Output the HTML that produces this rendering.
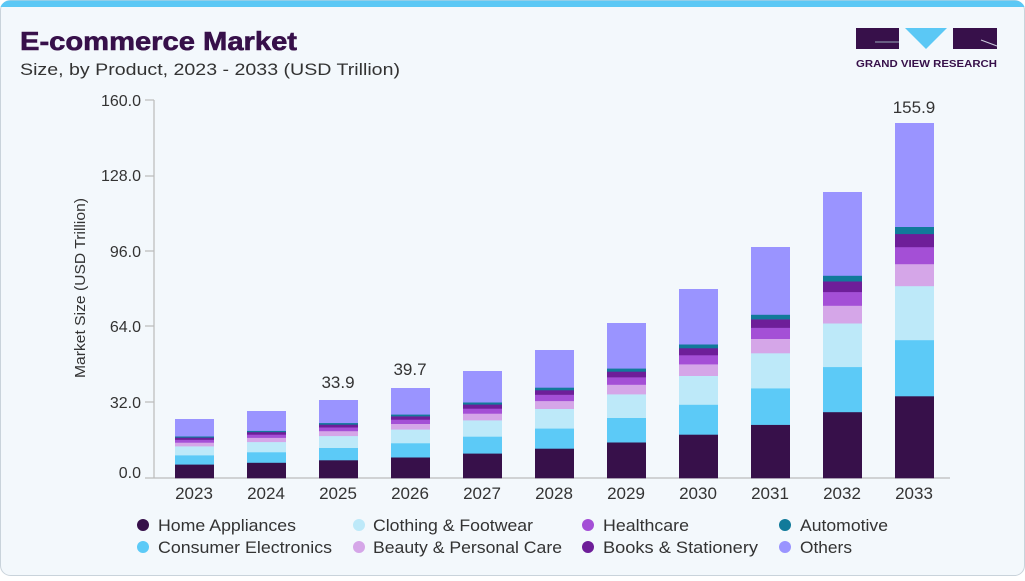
<!DOCTYPE html>
<html><head><meta charset="utf-8"><style>
body{margin:0;width:1025px;height:576px;overflow:hidden;background:#fff;font-family:"Liberation Sans",sans-serif}
</style></head><body>
<svg width="1025" height="576" xmlns="http://www.w3.org/2000/svg" font-family="Liberation Sans, sans-serif">
<rect x="0.5" y="0.5" width="1024" height="575" rx="10" fill="#f3f8fc" stroke="#c9d3db"/>
<path d="M10 0.5 H1015 A10 10 0 0 1 1024.5 7 H0.5 A10 10 0 0 1 10 0.5Z" fill="#5bc8f5"/>
<text x="20" y="50" font-size="26" font-weight="bold" fill="#37104a" textLength="277" lengthAdjust="spacingAndGlyphs" stroke="#37104a" stroke-width="0.6">E-commerce Market</text>
<text x="20" y="75" font-size="17" fill="#333" textLength="380" lengthAdjust="spacingAndGlyphs">Size, by Product, 2023 - 2033 (USD Trillion)</text>
<rect x="856" y="28" width="43" height="21" fill="#37104a"/>
<line x1="875" y1="42" x2="899" y2="42" stroke="#9ab" stroke-width="1"/>
<polygon points="905,28 947,28 926,49" fill="#5bc8f5"/>
<rect x="953" y="28" width="44" height="21" fill="#37104a"/>
<line x1="981" y1="40" x2="997" y2="46" stroke="#ccd" stroke-width="1"/>
<text x="856" y="67" font-size="10" font-weight="bold" fill="#37104a" textLength="141" lengthAdjust="spacingAndGlyphs">GRAND VIEW RESEARCH</text>
<text transform="translate(85,288) rotate(-90)" text-anchor="middle" font-size="15" fill="#333" textLength="180" lengthAdjust="spacingAndGlyphs">Market Size (USD Trillion)</text>
<g font-size="16" fill="#333" text-anchor="end">
<text x="141" y="106">160.0</text><text x="141" y="181">128.0</text><text x="141" y="257">96.0</text>
<text x="141" y="332">64.0</text><text x="141" y="408">32.0</text><text x="141" y="478">0.0</text>
</g>
<g stroke="#bbb" stroke-width="1.2">
<line x1="154" y1="100" x2="154" y2="478"/><line x1="154" y1="478" x2="950" y2="478"/>
<line x1="145" y1="100" x2="154" y2="100"/><line x1="145" y1="176" x2="154" y2="176"/>
<line x1="145" y1="251" x2="154" y2="251"/><line x1="145" y1="326" x2="154" y2="326"/>
<line x1="145" y1="402" x2="154" y2="402"/><line x1="145" y1="478" x2="154" y2="478"/>
</g>
<g id="bars"></g>
<g font-size="17" fill="#333" text-anchor="middle">
<text x="338" y="388">33.9</text><text x="410" y="375">39.7</text><text x="914" y="113">155.9</text>
<text x="194" y="499">2023</text><text x="266" y="499">2024</text><text x="338" y="499">2025</text><text x="410" y="499">2026</text><text x="482" y="499">2027</text><text x="554" y="499">2028</text><text x="626" y="499">2029</text><text x="698" y="499">2030</text><text x="770" y="499">2031</text><text x="842" y="499">2032</text><text x="914" y="499">2033</text>
</g>
<g font-size="17" fill="#333">
<circle cx="143" cy="525" r="6" fill="#37104a"/><text x="158" y="531" textLength="138" lengthAdjust="spacingAndGlyphs">Home Appliances</text>
<circle cx="143" cy="547" r="6" fill="#5ccaf7"/><text x="158" y="553" textLength="174" lengthAdjust="spacingAndGlyphs">Consumer Electronics</text>
<circle cx="359" cy="525" r="6" fill="#bde9f9"/><text x="373" y="531" textLength="160" lengthAdjust="spacingAndGlyphs">Clothing &amp; Footwear</text>
<circle cx="359" cy="547" r="6" fill="#d5a6e8"/><text x="373" y="553" textLength="189" lengthAdjust="spacingAndGlyphs">Beauty &amp; Personal Care</text>
<circle cx="588" cy="525" r="6" fill="#a44fd6"/><text x="603" y="531" textLength="86" lengthAdjust="spacingAndGlyphs">Healthcare</text>
<circle cx="588" cy="547" r="6" fill="#6e1e99"/><text x="603" y="553" textLength="155" lengthAdjust="spacingAndGlyphs">Books &amp; Stationery</text>
<circle cx="785" cy="525" r="6" fill="#117a9a"/><text x="800" y="531" textLength="88" lengthAdjust="spacingAndGlyphs">Automotive</text>
<circle cx="785" cy="547" r="6" fill="#9a94ff"/><text x="800" y="553" textLength="52" lengthAdjust="spacingAndGlyphs">Others</text>
</g>
</svg>
<script>
var H=[59,67,78,90,107,128,155,189,231,286,355];
var P=[.231,.158,.152,.062,.048,.037,.02,.292];
var C=["#37104a","#5ccaf7","#bde9f9","#d5a6e8","#a44fd6","#6e1e99","#117a9a","#9a94ff"];
var g=document.getElementById("bars"),s="";
for(var i=0;i<11;i++){var x=175+72*i,y=478;for(var j=0;j<8;j++){var h=H[i]*P[j];y-=h;s+='<rect x="'+x+'" y="'+y.toFixed(1)+'" width="39" height="'+(h+0.3).toFixed(1)+'" fill="'+C[j]+'"/>';}}
g.innerHTML=s;
</script>
</body></html>
